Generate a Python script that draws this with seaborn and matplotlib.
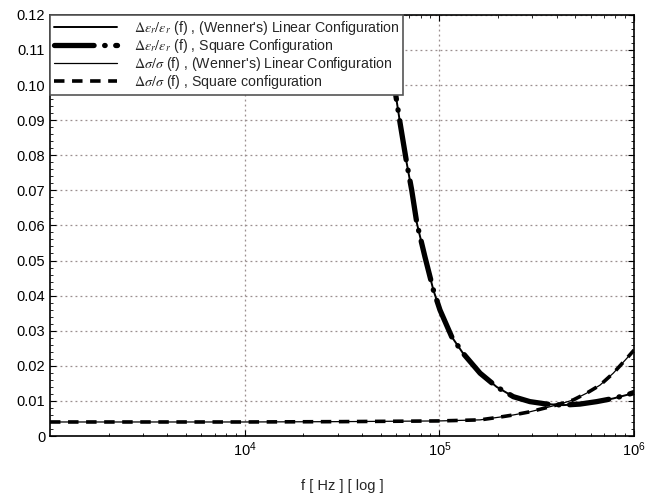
import numpy as np
import pandas as pd
import matplotlib
matplotlib.use('Agg')
import matplotlib.pyplot as plt
import matplotlib.ticker as mticker
import seaborn as sns

# log10 of frequency and relative error
eps_logf = [4.70, 4.777, 4.798, 4.832, 4.858, 4.884, 4.926, 4.969, 5.003, 5.063, 5.121,
            5.209, 5.294, 5.380, 5.465, 5.551, 5.636, 5.722, 5.808, 5.893, 5.962, 6.0]
eps_linear = [0.140, 0.0967, 0.0892, 0.0778, 0.0700, 0.0607, 0.0510, 0.0416, 0.0359, 0.0283, 0.0236,
              0.0179, 0.0140, 0.0112, 0.0098, 0.0091, 0.0088, 0.0091, 0.0098, 0.0107, 0.0117, 0.0123]
eps_square = [0.140, 0.0967, 0.0892, 0.0778, 0.0700, 0.0607, 0.0510, 0.0416, 0.0359, 0.0283, 0.0236,
              0.0179, 0.0140, 0.0112, 0.0098, 0.0091, 0.0088, 0.0091, 0.0098, 0.0107, 0.0117, 0.0124]

sig_logf = [3.0, 4.0, 4.5, 5.0, 5.209, 5.311, 5.380, 5.465, 5.551, 5.619, 5.688,
            5.756, 5.825, 5.893, 5.962, 6.0]
sig_linear = [0.0040, 0.0040, 0.0041, 0.0043, 0.0046, 0.0054, 0.0060, 0.0069, 0.0081, 0.0091, 0.0103,
              0.0122, 0.0145, 0.0179, 0.0221, 0.0245]
sig_square = [0.0040, 0.0040, 0.0041, 0.0043, 0.0046, 0.0054, 0.0060, 0.0069, 0.0081, 0.0091, 0.0103,
              0.0122, 0.0145, 0.0179, 0.0221, 0.0245]

labels = [r"$\Delta\varepsilon_r/\varepsilon_r$ (f) , (Wenner's) Linear Configuration",
          r"$\Delta\varepsilon_r/\varepsilon_r$ (f) , Square Configuration",
          r"$\Delta\sigma/\sigma$ (f) , (Wenner's) Linear Configuration",
          r"$\Delta\sigma/\sigma$ (f) , Square configuration"]

sns.set_style('ticks')
plt.rcParams['font.family'] = ['Liberation Sans', 'DejaVu Sans']
plt.rcParams['mathtext.fontset'] = 'stix'

eps_f = 10 ** np.array(eps_logf)
sig_f = 10 ** np.array(sig_logf)

fig = plt.figure(figsize=(6.71, 4.97), dpi=100)
ax = fig.add_axes([0.0745, 0.1227, 0.8705, 0.8475])

sns.lineplot(x=sig_f, y=sig_square, ax=ax, color='black', linewidth=2.6,
             linestyle=(0, (2.9, 2.1)), label=labels[3])
sns.lineplot(x=sig_f, y=sig_linear, ax=ax, color='black', linewidth=0.9, label=labels[2])
sns.lineplot(x=eps_f, y=eps_square, ax=ax, color='black', linewidth=3.8,
             linestyle=(0, (7.5, 2.0, 0.1, 2.0)), dash_capstyle='round', label=labels[1])
sns.lineplot(x=eps_f, y=eps_linear, ax=ax, color='black', linewidth=1.4, label=labels[0])

ax.set_xscale('log')
ax.set_xlim(1e3, 1e6)
ax.set_ylim(0, 0.12)
ax.set_xticks([1e4, 1e5, 1e6])
ax.xaxis.set_minor_locator(mticker.LogLocator(base=10, subs=np.arange(2, 10)))
ax.xaxis.set_minor_formatter(mticker.NullFormatter())
ax.set_yticks(np.arange(0, 0.121, 0.01))
ax.set_yticklabels(['0'] + ['%.2f' % v for v in np.arange(0.01, 0.121, 0.01)])
ax.yaxis.set_minor_locator(mticker.MultipleLocator(0.002))
ax.tick_params(which='both', direction='in', top=True, right=True, labelsize=10.5, colors='black')
ax.tick_params(which='major', length=4)
ax.tick_params(which='minor', length=2)
ax.grid(True, which='major', linestyle=(0, (1.5, 2.5)), color='#9a8f8f', linewidth=0.9)
for s in ax.spines.values():
    s.set_color('black')
    s.set_linewidth(1.2)

ax.set_xlabel('f [ Hz ] [ log ]', fontsize=10.5, labelpad=14)
ax.set_ylabel('')

h, l = ax.get_legend_handles_labels()
hmap = dict(zip(l, h))
leg = ax.legend([hmap[x] for x in labels], labels, loc='upper left', borderaxespad=0,
                fancybox=False, framealpha=1, edgecolor='#555555', fontsize=10.2,
                handlelength=4.4, labelspacing=0.0, borderpad=0.3, handletextpad=1.2)
leg.get_frame().set_linewidth(1.2)

fig.savefig('out.png', dpi=100)
